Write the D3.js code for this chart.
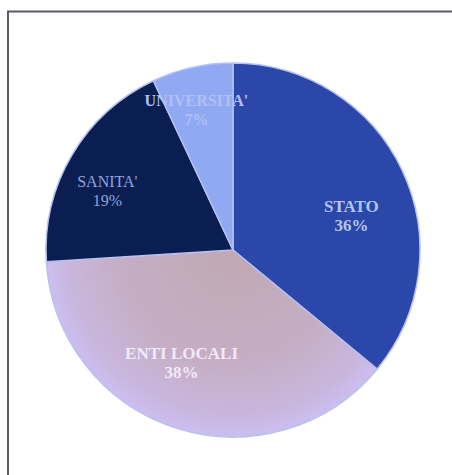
<!DOCTYPE html>
<html>
<head>
<meta charset="utf-8">
<script src="https://cdn.jsdelivr.net/npm/d3@7"></script>
<style>
  html, body { margin: 0; padding: 0; background: #ffffff; }
  svg { display: block; }
</style>
</head>
<body>
<script>
// ---- data ----
const categories = ["STATO", "ENTI LOCALI", "SANITA'", "UNIVERSITA'"];
const values = [36, 38, 19, 7];
const percentLabels = ["36%", "38%", "19%", "7%"];

// ---- styles ----
const fills = ["#2b47a9", "#c4afc4", "#0b1e52", "#8faaf2"];
const labelColors = ["#b4c6f2", "#f2eaf8", "#8ea4dc", "#b0c0f4"];
const labelWeights = ["bold", "bold", "normal", "bold"];
const labelSizes = [17, 17, 16, 16];
// label nudges from the arc centroid (layout, px)
const nudges = [[0, 20], [-11, -13], [-13, 6], [-8, -14]];

const W = 452, H = 475;
const cx = 233, cy = 250, R = 187;

const svg = d3.select("body").append("svg")
  .attr("width", W).attr("height", H);

// frame (left and top edges)
svg.append("path")
  .attr("d", `M8,${H} L8,11.5 L${W},11.5`)
  .attr("fill", "none")
  .attr("stroke", "#5a5a66")
  .attr("stroke-width", 2);

const defs = svg.append("defs");
const grad = defs.append("radialGradient")
  .attr("id", "entiGrad")
  .attr("gradientUnits", "userSpaceOnUse")
  .attr("cx", 0).attr("cy", 0).attr("r", R);
grad.append("stop").attr("offset", "0%").attr("stop-color", "#c0a9b2");
grad.append("stop").attr("offset", "60%").attr("stop-color", "#c5aec4");
grad.append("stop").attr("offset", "88%").attr("stop-color", "#c8b6dc");
grad.append("stop").attr("offset", "100%").attr("stop-color", "#cbbef0");

const data = categories.map((c, i) => ({ name: c, value: values[i], pct: percentLabels[i], i }));

const pie = d3.pie().value(d => d.value).sort(null);
const arc = d3.arc().innerRadius(0).outerRadius(R);
const labelArc = d3.arc().innerRadius(R * 0.7).outerRadius(R * 0.7);

const g = svg.append("g").attr("transform", `translate(${cx},${cy})`);
const arcs = pie(data);

g.selectAll("path.slice")
  .data(arcs)
  .join("path")
  .attr("class", "slice")
  .attr("d", arc)
  .attr("fill", d => d.data.i === 1 ? "url(#entiGrad)" : fills[d.data.i])
  .attr("stroke", "#b8c0f2")
  .attr("stroke-width", 1.5)
  .attr("stroke-linejoin", "round");

const labels = g.selectAll("text.lbl")
  .data(arcs)
  .join("text")
  .attr("class", "lbl")
  .attr("text-anchor", "middle")
  .attr("font-family", "'Liberation Serif', 'Times New Roman', serif")
  .attr("font-weight", d => labelWeights[d.data.i])
  .attr("font-size", d => labelSizes[d.data.i])
  .attr("fill", d => labelColors[d.data.i])
  .attr("transform", d => {
    const [x, y] = labelArc.centroid(d);
    const n = nudges[d.data.i];
    return `translate(${x + n[0]},${y + n[1]})`;
  });

labels.append("tspan")
  .attr("x", 0).attr("y", -2)
  .text(d => d.data.name);
labels.append("tspan")
  .attr("x", 0).attr("y", 17)
  .text(d => d.data.pct);
</script>
</body>
</html>
